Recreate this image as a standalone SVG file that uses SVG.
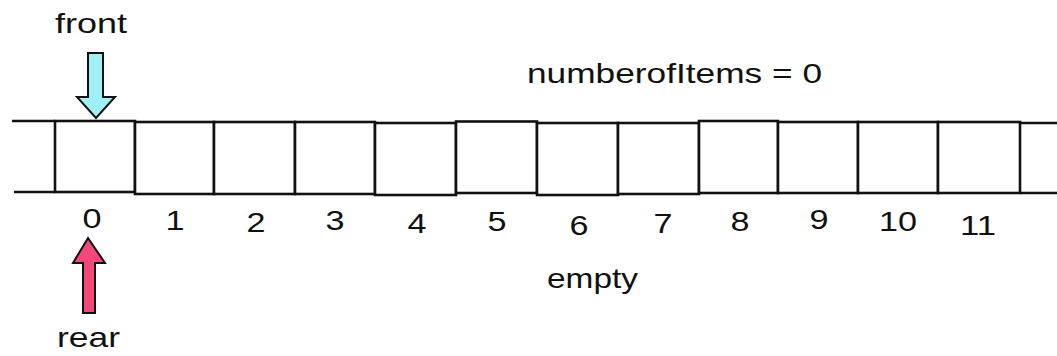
<svg xmlns="http://www.w3.org/2000/svg" width="1057" height="356" viewBox="0 0 1057 356">
  <style>
    .cell { fill: #ffffff; stroke: #111111; stroke-width: 2.6; }
    .stub { stroke: #111111; stroke-width: 2.4; fill: none; }
    .lbl { font-family: "Liberation Sans", Arial, sans-serif; font-size: 28px; fill: #111111; }
    .idx { font-family: "Liberation Sans", Arial, sans-serif; font-size: 28px; fill: #111111; text-anchor: middle; }
    .arrow { stroke: #111111; stroke-width: 2; stroke-linejoin: miter; }
  </style>
  <rect width="1057" height="356" fill="#ffffff"/>

  <!-- array stubs on both ends -->
  <g id="array-ends">
    <line class="stub" x1="12" y1="121" x2="55" y2="121"/>
    <line class="stub" x1="14" y1="192" x2="55" y2="192"/>
    <line class="stub" x1="1020" y1="123" x2="1057" y2="123"/>
    <line class="stub" x1="1020" y1="193" x2="1057" y2="193"/>
  </g>

  <!-- array slots 0..11 -->
  <g id="slot-0"><rect class="cell" x="55" y="121" width="80" height="71"/><text class="idx" x="92" y="228" textLength="19" lengthAdjust="spacingAndGlyphs">0</text></g>
  <g id="slot-1"><rect class="cell" x="135" y="122" width="79" height="72"/><text class="idx" x="175" y="230" textLength="19" lengthAdjust="spacingAndGlyphs">1</text></g>
  <g id="slot-2"><rect class="cell" x="214" y="122" width="81" height="72"/><text class="idx" x="256" y="232" textLength="19" lengthAdjust="spacingAndGlyphs">2</text></g>
  <g id="slot-3"><rect class="cell" x="295" y="122" width="80" height="72"/><text class="idx" x="335" y="230" textLength="19" lengthAdjust="spacingAndGlyphs">3</text></g>
  <g id="slot-4"><rect class="cell" x="375" y="123" width="81" height="72"/><text class="idx" x="417" y="233" textLength="19" lengthAdjust="spacingAndGlyphs">4</text></g>
  <g id="slot-5"><rect class="cell" x="456" y="121.5" width="81" height="71.5"/><text class="idx" x="497" y="231" textLength="19" lengthAdjust="spacingAndGlyphs">5</text></g>
  <g id="slot-6"><rect class="cell" x="537" y="123" width="81" height="72"/><text class="idx" x="579" y="235" textLength="19" lengthAdjust="spacingAndGlyphs">6</text></g>
  <g id="slot-7"><rect class="cell" x="618" y="123" width="81" height="71"/><text class="idx" x="663" y="233" textLength="19" lengthAdjust="spacingAndGlyphs">7</text></g>
  <g id="slot-8"><rect class="cell" x="699" y="121" width="79" height="72"/><text class="idx" x="740" y="231" textLength="19" lengthAdjust="spacingAndGlyphs">8</text></g>
  <g id="slot-9"><rect class="cell" x="778" y="122" width="80" height="71"/><text class="idx" x="819" y="229" textLength="19" lengthAdjust="spacingAndGlyphs">9</text></g>
  <g id="slot-10"><rect class="cell" x="858" y="122" width="80" height="71"/><text class="idx" x="898" y="231" textLength="38" lengthAdjust="spacingAndGlyphs">10</text></g>
  <g id="slot-11"><rect class="cell" x="938" y="122" width="82" height="71"/><text class="idx" x="978" y="235" textLength="36" lengthAdjust="spacingAndGlyphs">11</text></g>

  <!-- front pointer -->
  <g id="front">
    <text class="lbl" x="55" y="33" textLength="72" lengthAdjust="spacingAndGlyphs">front</text>
    <polygon class="arrow" fill="#9ff0f7" points="88,53 103,53 103,97 115,97 96,118 77,97 88,97"/>
  </g>

  <!-- rear pointer -->
  <g id="rear">
    <polygon class="arrow" fill="#f2487a" points="88,238 105,263 95,263 95,313 83,313 83,263 73,263"/>
    <text class="lbl" x="57" y="347" textLength="63" lengthAdjust="spacingAndGlyphs">rear</text>
  </g>

  <!-- status labels -->
  <g id="count">
    <text class="lbl" x="527" y="83" textLength="295" lengthAdjust="spacingAndGlyphs">numberofItems = 0</text>
  </g>
  <g id="state">
    <text class="lbl" x="547" y="288" textLength="91" lengthAdjust="spacingAndGlyphs">empty</text>
  </g>

  <g id="connectors"/>
</svg>
